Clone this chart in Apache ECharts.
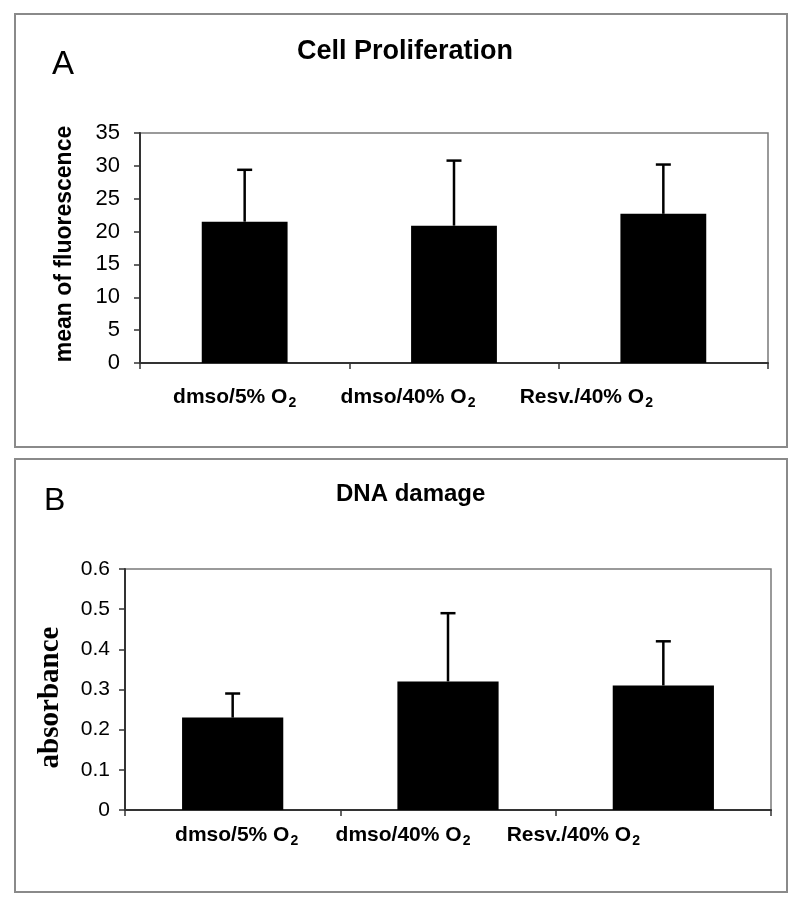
<!DOCTYPE html>
<html>
<head>
<meta charset="utf-8">
<script src="https://cdn.jsdelivr.net/npm/echarts@6/dist/echarts.min.js"></script>
<style>
html,body{margin:0;padding:0;background:#fff;}
#chart{width:800px;height:906px;}
</style>
</head>
<body>
<div id="chart"></div>
<script>
// ---- data ----
const categories = ['dmso/5% O2', 'dmso/40% O2', 'Resv./40% O2'];
const prolifMean = [21.5, 20.9, 22.7];
const prolifErr = [7.9, 9.9, 7.5];
const dnaMean = [0.23, 0.32, 0.31];
const dnaErr = [0.06, 0.17, 0.11];
const prolifTicks = { min: 0, max: 35, interval: 5 };
const dnaTicks = { min: 0, max: 0.6, interval: 0.1 };

// ---- presentation ----
const SANS = '"Liberation Sans", Arial, Helvetica, sans-serif';
const SERIF = '"Liberation Serif", "Times New Roman", serif';
const labelShiftA = [-10, -46, -77];
const labelShiftB = [4, -45, -90];

function catData(shifts) {
  return categories.map((c, i) => {
    const d = shifts[i];
    const pad = d < 0 ? [0, -2 * d, 0, 0] : [0, 0, 0, 2 * d];
    return { value: c, textStyle: { padding: pad } };
  });
}
function labelFmt(v) {
  return '{b|' + v.slice(0, -1) + '}{s|' + v.slice(-1) + '}';
}
const richLabel = {
  b: { fontFamily: SANS, fontWeight: 'bold', fontSize: 21, color: '#000' },
  s: { fontFamily: SANS, fontWeight: 'bold', fontSize: 14, color: '#000', padding: [12, 0, 0, 1] }
};
function errorBar(params, api) {
  const x = api.value(0), m = api.value(1), e = api.value(2);
  const p0 = api.coord([x, m]);
  const p1 = api.coord([x, m + e]);
  const half = 7.5;
  const style = { stroke: '#000', lineWidth: 2.5 };
  return {
    type: 'group',
    children: [
      { type: 'line', shape: { x1: p0[0], y1: p0[1], x2: p1[0], y2: p1[1] }, style: style },
      { type: 'line', shape: { x1: p1[0] - half, y1: p1[1], x2: p1[0] + half, y2: p1[1] }, style: style }
    ]
  };
}

const chart = echarts.init(document.getElementById('chart'), null, { renderer: 'canvas' });
const option = {
  animation: false,
  backgroundColor: '#fff',
  title: [
    { text: 'A', left: 47, top: 43, textStyle: { fontFamily: SANS, fontWeight: 'normal', fontSize: 33, color: '#000' } },
    { text: 'Cell Proliferation', left: 292, top: 33, textStyle: { fontFamily: SANS, fontWeight: 'bold', fontSize: 27, color: '#000' } },
    { text: 'B', left: 39, top: 480, textStyle: { fontFamily: SANS, fontWeight: 'normal', fontSize: 32, color: '#000' } },
    { text: 'DNA damage', left: 331, top: 477, textStyle: { fontFamily: SANS, fontWeight: 'bold', fontSize: 24, color: '#000' } }
  ],
  graphic: [
    { type: 'rect', shape: { x: 15, y: 14, width: 772, height: 433 }, style: { fill: 'none', stroke: '#8a8a8a', lineWidth: 2 }, z: -1 },
    { type: 'rect', shape: { x: 15, y: 459, width: 772, height: 433 }, style: { fill: 'none', stroke: '#8a8a8a', lineWidth: 2 }, z: -1 }
  ],
  grid: [
    { left: 140, top: 133, width: 628, height: 230, show: true, borderColor: '#7a7a7a', borderWidth: 1.5, backgroundColor: 'transparent' },
    { left: 125, top: 569, width: 646, height: 241, show: true, borderColor: '#7a7a7a', borderWidth: 1.5, backgroundColor: 'transparent' }
  ],
  xAxis: [
    {
      type: 'category', gridIndex: 0, data: catData(labelShiftA),
      axisLine: { lineStyle: { color: '#333', width: 2 } },
      axisTick: { show: true, interval: 0, length: 6, lineStyle: { color: '#333', width: 1.5 } },
      axisLabel: { interval: 0, margin: 21, formatter: labelFmt, rich: richLabel }
    },
    {
      type: 'category', gridIndex: 1, data: catData(labelShiftB),
      axisLine: { lineStyle: { color: '#333', width: 2 } },
      axisTick: { show: true, interval: 0, length: 6, lineStyle: { color: '#333', width: 1.5 } },
      axisLabel: { interval: 0, margin: 12, formatter: labelFmt, rich: richLabel }
    }
  ],
  yAxis: [
    {
      type: 'value', gridIndex: 0, min: prolifTicks.min, max: prolifTicks.max, interval: prolifTicks.interval,
      name: 'mean of fluorescence', nameLocation: 'middle', nameGap: 64, nameRotate: 90,
      nameTextStyle: { fontFamily: SANS, fontWeight: 'bold', fontSize: 23, color: '#000', padding: [0, 0, 0, 8] },
      splitLine: { show: false },
      axisLine: { show: true, lineStyle: { color: '#333', width: 2 } },
      axisTick: { show: true, length: 6, lineStyle: { color: '#333', width: 1.5 } },
      axisLabel: { margin: 20, fontFamily: SANS, fontSize: 22, color: '#000' }
    },
    {
      type: 'value', gridIndex: 1, min: dnaTicks.min, max: dnaTicks.max, interval: dnaTicks.interval,
      name: 'absorbance', nameLocation: 'middle', nameGap: 60, nameRotate: 90,
      nameTextStyle: { fontFamily: SERIF, fontWeight: 'bold', fontSize: 29, color: '#000', padding: [0, 16, 0, 0] },
      splitLine: { show: false },
      axisLine: { show: true, lineStyle: { color: '#333', width: 2 } },
      axisTick: { show: true, length: 6, lineStyle: { color: '#333', width: 1.5 } },
      axisLabel: { margin: 15, fontFamily: SANS, fontSize: 21, color: '#000' }
    }
  ],
  series: [
    { type: 'bar', xAxisIndex: 0, yAxisIndex: 0, data: prolifMean, barWidth: '41%', itemStyle: { color: '#000' }, z: 2 },
    { type: 'custom', xAxisIndex: 0, yAxisIndex: 0, renderItem: errorBar,
      data: prolifMean.map((m, i) => [i, m, prolifErr[i]]), encode: { x: 0, y: 1 }, z: 3 },
    { type: 'bar', xAxisIndex: 1, yAxisIndex: 1, data: dnaMean, barWidth: '47%', itemStyle: { color: '#000' }, z: 2 },
    { type: 'custom', xAxisIndex: 1, yAxisIndex: 1, renderItem: errorBar,
      data: dnaMean.map((m, i) => [i, m, dnaErr[i]]), encode: { x: 0, y: 1 }, z: 3 }
  ]
};
chart.setOption(option);
</script>
</body>
</html>
